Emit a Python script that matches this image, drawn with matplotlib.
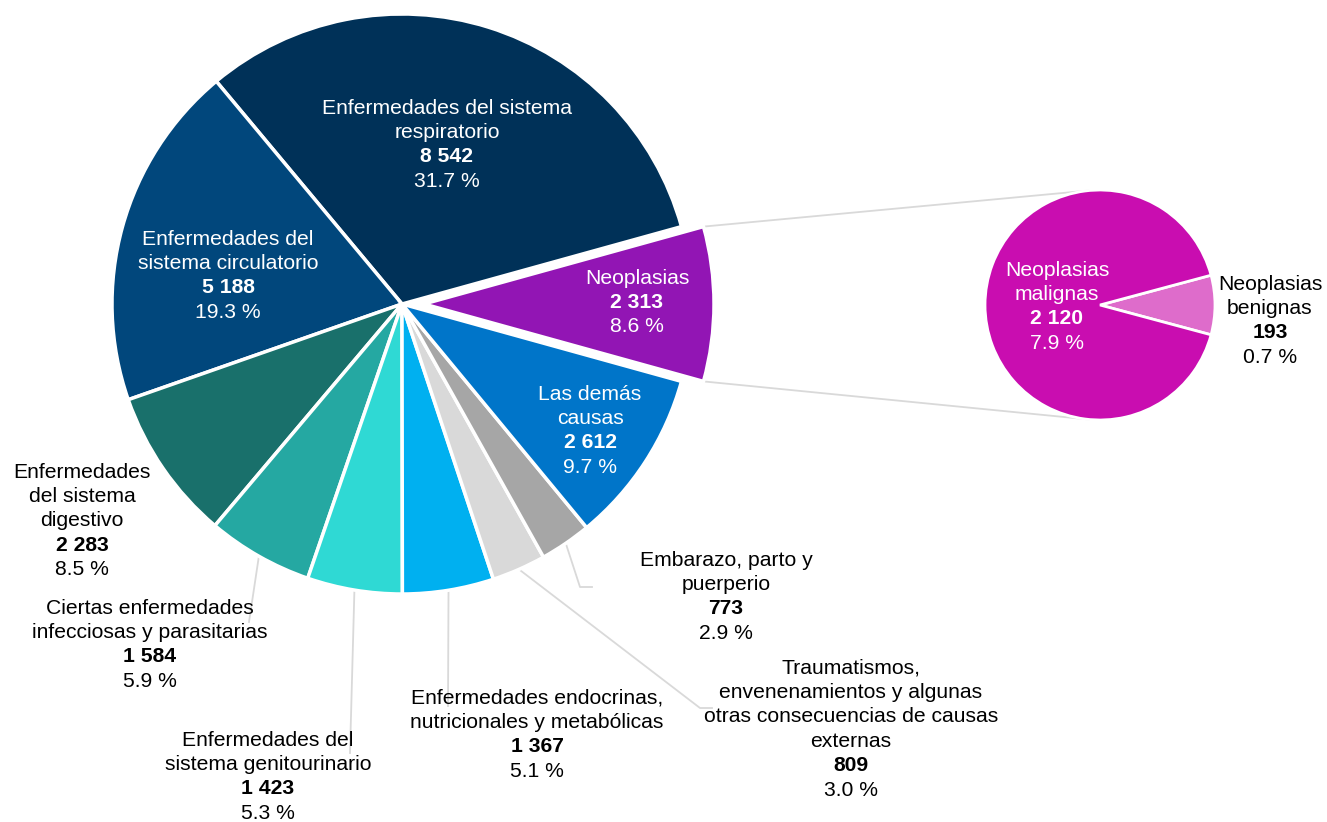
import matplotlib.pyplot as plt
import numpy as np

plt.rcParams['font.family'] = ['Liberation Sans', 'DejaVu Sans']

# datos (orden de las rebanadas, en sentido antihorario desde Neoplasias)
categorias = ['Neoplasias', 'Enfermedades del sistema respiratorio',
              'Enfermedades del sistema circulatorio',
              'Enfermedades del sistema digestivo',
              'Ciertas enfermedades infecciosas y parasitarias',
              'Enfermedades del sistema genitourinario',
              'Enfermedades endocrinas, nutricionales y metabólicas',
              'Traumatismos, envenenamientos y algunas otras consecuencias de causas externas',
              'Embarazo, parto y puerperio', 'Las demás causas']
valores = [2313, 8542, 5188, 2283, 1584, 1423, 1367, 809, 773, 2612]
porcentajes = [8.6, 31.7, 19.3, 8.5, 5.9, 5.3, 5.1, 3.0, 2.9, 9.7]
etiquetas = ['Neoplasias', 'Enfermedades del sistema\nrespiratorio',
             'Enfermedades del\nsistema circulatorio',
             'Enfermedades\ndel sistema\ndigestivo',
             'Ciertas enfermedades\ninfecciosas y parasitarias',
             'Enfermedades del\nsistema genitourinario',
             'Enfermedades endocrinas,\nnutricionales y metabólicas',
             'Traumatismos,\nenvenenamientos y algunas\notras consecuencias de causas\nexternas',
             'Embarazo, parto y\npuerperio', 'Las demás\ncausas']
colores = ['#9215B4', '#003158', '#01477C', '#19706B', '#25A8A2',
           '#2FD9D4', '#00B0F0', '#D9D9D9', '#A6A6A6', '#0075C9']

sub_categorias = ['Neoplasias benignas', 'Neoplasias malignas']
sub_valores = [193, 2120]
sub_porcentajes = [0.7, 7.9]
sub_etiquetas = ['Neoplasias\nbenignas', 'Neoplasias\nmalignas']
sub_colores = ['#DE6CCB', '#C90DB0']

W, H = 1327, 822


def py(y):
    return H - y


def fmt(v):
    return '{:,}'.format(v).replace(',', ' ')


fig = plt.figure(figsize=(W / 100, H / 100), dpi=100)
ax = fig.add_axes([0, 0, 1, 1])

cx, cy, r = 402, 304, 290
total = sum(valores)
start = -valores[0] / total * 360 / 2
# explode va en unidades de datos (pixeles aqui)
explode = [22] + [0] * (len(valores) - 1)
wedges, _ = ax.pie(valores, colors=colores, startangle=start, counterclock=True,
                   center=(cx, py(cy)), radius=r, explode=explode,
                   wedgeprops=dict(edgecolor='white', linewidth=2.5))

sx, sy, sr = 1100, 305, 115
sub_start = -sub_valores[0] / sum(sub_valores) * 360 / 2
ax.pie(sub_valores, colors=sub_colores, startangle=sub_start, counterclock=True,
       center=(sx, py(sy)), radius=sr,
       wedgeprops=dict(edgecolor='white', linewidth=2))

# lineas de conexion entre Neoplasias y el pie secundario
w0 = wedges[0]
for ang, sub_ang in [(w0.theta2, 95), (w0.theta1, 265)]:
    x0 = w0.center[0] + w0.r * np.cos(np.radians(ang))
    y0 = w0.center[1] + w0.r * np.sin(np.radians(ang))
    x1 = sx + sr * np.cos(np.radians(sub_ang))
    y1 = py(sy) + sr * np.sin(np.radians(sub_ang))
    ax.plot([x0, x1], [y0, y1], color='#D9D9D9', lw=1.3, zorder=0)

# lineas guia
guias = {4: [(249, 622)], 5: [(350, 753)], 6: [(448, 706)],
         7: [(700, 708), (712, 708)], 8: [(580, 587), (592, 587)]}
for i, pts in guias.items():
    w = wedges[i]
    mid = np.radians((w.theta1 + w.theta2) / 2)
    xs = [cx + r * np.cos(mid)] + [p[0] for p in pts]
    ys = [py(cy) + r * np.sin(mid)] + [py(p[1]) for p in pts]
    ax.plot(xs, ys, color='#D9D9D9', lw=1.3, zorder=0)

# posiciones de las etiquetas (x centro, y primera linea) y color
pos = [(637, 278, 'white'), (447, 108, 'white'), (228, 239, 'white'),
       (82, 472, 'black'), (150, 608, 'black'), (268, 740, 'black'),
       (537, 698, 'black'), (851, 668, 'black'), (726, 560, 'black'),
       (590, 394, 'white')]
sub_pos = [(1270, 284, 'black'), (1057, 270, 'white')]

fs = 15.2
dy = 24.4


def etiqueta(x, y, texto, valor, pct, color):
    lineas = texto.split('\n')
    for k, ln in enumerate(lineas):
        ax.text(x, py(y + k * dy), ln, ha='center', va='center',
                fontsize=fs, color=color)
    n = len(lineas)
    ax.text(x, py(y + n * dy), fmt(valor), ha='center', va='center',
            fontsize=fs, color=color, fontweight='bold')
    ax.text(x, py(y + (n + 1) * dy), '{:.1f} %'.format(pct), ha='center',
            va='center', fontsize=fs, color=color)


for i in range(len(valores)):
    x, y, c = pos[i]
    etiqueta(x, y, etiquetas[i], valores[i], porcentajes[i], c)
for i in range(len(sub_valores)):
    x, y, c = sub_pos[i]
    etiqueta(x, y, sub_etiquetas[i], sub_valores[i], sub_porcentajes[i], c)

ax.set_xlim(0, W)
ax.set_ylim(0, H)
ax.set_aspect('equal')
ax.axis('off')

fig.savefig('out.png', dpi=100)
